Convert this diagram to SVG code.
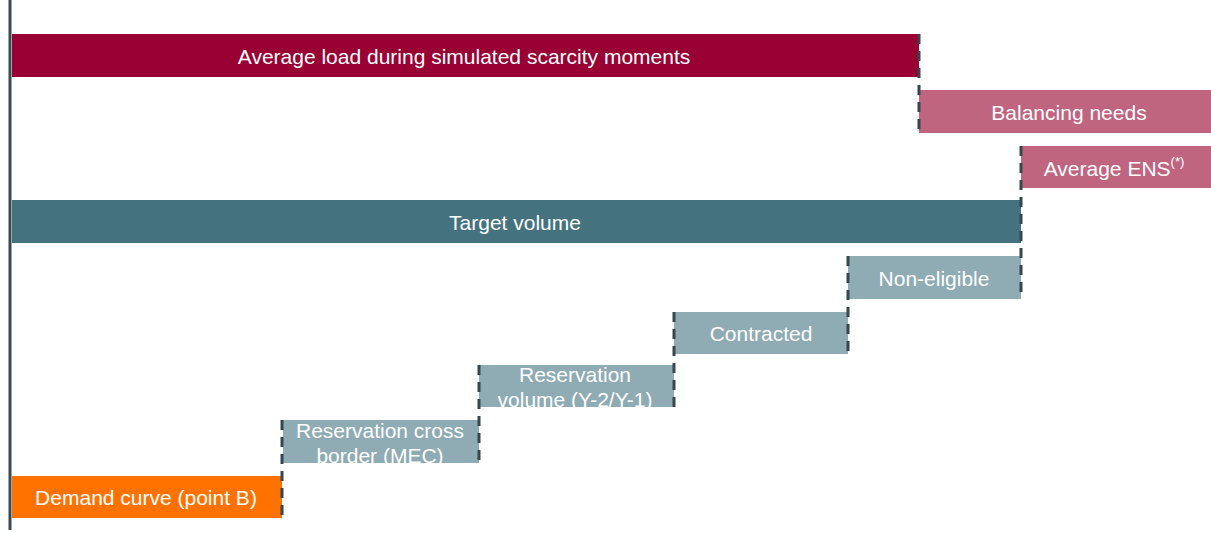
<svg xmlns="http://www.w3.org/2000/svg" width="1211" height="533" viewBox="0 0 1211 533">
<style>
.t{font-family:"Liberation Sans",Arial,sans-serif;font-size:21px;fill:#ffffff;text-anchor:middle;dominant-baseline:central}
.d{stroke:#37474f;stroke-width:3;stroke-dasharray:10 7;fill:none}
</style>
<rect width="1211" height="533" fill="#ffffff"/>
<g id="bars">
<g id="avg-load"><rect x="12" y="34" width="907" height="43" fill="#990033"/><text class="t" x="464" y="56">Average load during simulated scarcity moments</text></g>
<g id="balancing"><rect x="919" y="90" width="292" height="43" fill="#c0657f"/><text class="t" x="1069" y="112">Balancing needs</text></g>
<g id="ens"><rect x="1021" y="146" width="190" height="42" fill="#c0657f"/><text class="t" x="1114" y="168">Average ENS<tspan font-size="13" dy="-7">(*)</tspan></text></g>
<g id="target"><rect x="12" y="200" width="1009" height="43" fill="#44737f"/><text class="t" x="515" y="222">Target volume</text></g>
<g id="non-eligible"><rect x="848" y="256" width="173" height="43" fill="#8fabb3"/><text class="t" x="934" y="278">Non-eligible</text></g>
<g id="contracted"><rect x="674" y="312" width="174" height="42" fill="#8fabb3"/><text class="t" x="761" y="333">Contracted</text></g>
<g id="res-volume"><rect x="479" y="365" width="195" height="42" fill="#8fabb3"/><text class="t" x="575" y="374">Reservation</text><text class="t" x="575" y="399">volume (Y-2/Y-1)</text></g>
<g id="res-cross"><rect x="283" y="420" width="196" height="43" fill="#8fabb3"/><text class="t" x="380" y="430">Reservation cross</text><text class="t" x="380" y="455">border (MEC)</text></g>
<g id="demand"><rect x="12" y="476" width="270" height="42" fill="#ff7200"/><text class="t" x="146" y="497">Demand curve (point B)</text></g>
</g>
<g id="connectors">
<line x1="10" y1="0" x2="10" y2="530" stroke="#3c4a52" stroke-width="3"/>
<line class="d" x1="919" y1="34" x2="919" y2="133"/>
<line class="d" x1="1021" y1="146" x2="1021" y2="299"/>
<line class="d" x1="848" y1="256" x2="848" y2="354"/>
<line class="d" x1="674" y1="312" x2="674" y2="407"/>
<line class="d" x1="479" y1="365" x2="479" y2="463"/>
<line class="d" x1="282" y1="420" x2="282" y2="518"/>
</g>
</svg>
